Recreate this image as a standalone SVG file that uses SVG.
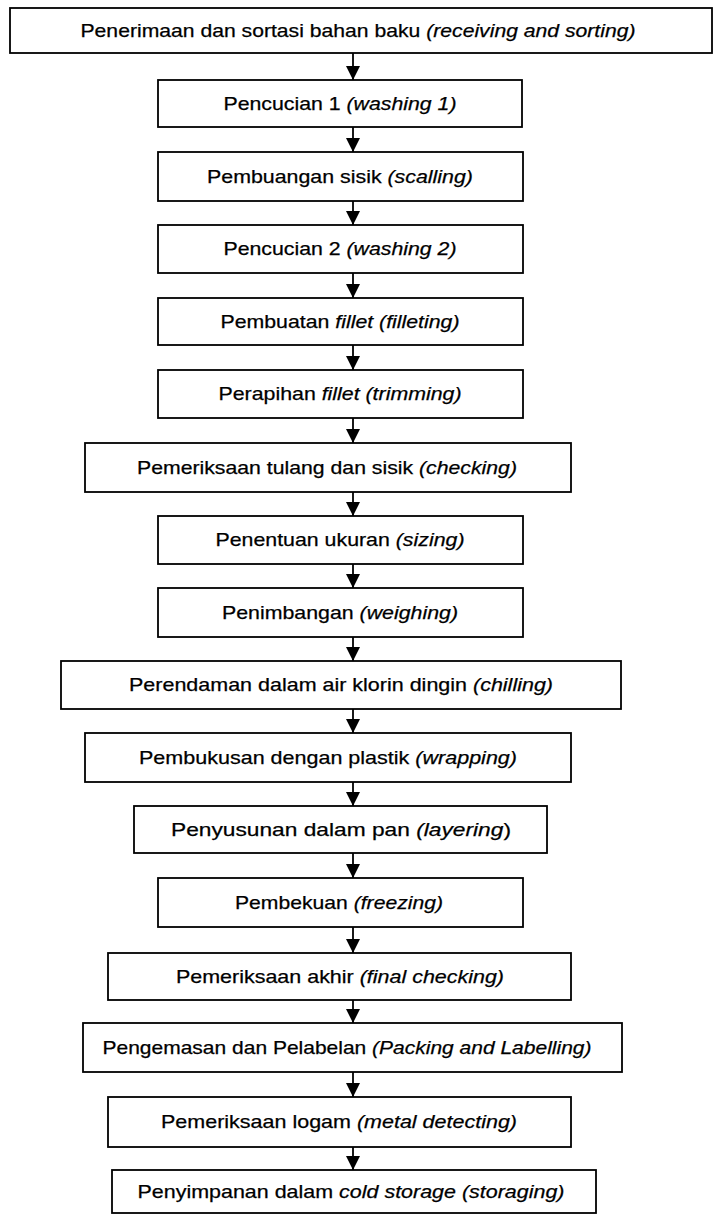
<svg xmlns="http://www.w3.org/2000/svg" width="715" height="1217" viewBox="0 0 715 1217">
<style>
.box{fill:#fff;stroke:#000;stroke-width:1.8}
.t{font-family:"Liberation Sans",Arial,sans-serif;font-size:19px;fill:#000;stroke:#000;stroke-width:0.25;text-anchor:middle}
.i{font-style:italic}
.c{stroke:#000;stroke-width:1.8;fill:none}
</style>
<defs>
<marker id="ah" markerUnits="userSpaceOnUse" markerWidth="16" markerHeight="16" viewBox="0 0 16 16" refX="14" refY="7" orient="auto">
<path d="M0,0 L14,7 L0,14 Z" fill="#000"/>
</marker>
</defs>
<rect width="715" height="1217" fill="#fff"/>
<g id="connectors">
<line class="c" x1="353" y1="53" x2="353" y2="80" marker-end="url(#ah)"/>
<line class="c" x1="353" y1="127" x2="353" y2="152" marker-end="url(#ah)"/>
<line class="c" x1="353" y1="201" x2="353" y2="225" marker-end="url(#ah)"/>
<line class="c" x1="353" y1="273" x2="353" y2="298" marker-end="url(#ah)"/>
<line class="c" x1="353" y1="345" x2="353" y2="370" marker-end="url(#ah)"/>
<line class="c" x1="353" y1="418" x2="353" y2="443" marker-end="url(#ah)"/>
<line class="c" x1="353" y1="492" x2="353" y2="516" marker-end="url(#ah)"/>
<line class="c" x1="353" y1="564" x2="353" y2="588" marker-end="url(#ah)"/>
<line class="c" x1="353" y1="637" x2="353" y2="661" marker-end="url(#ah)"/>
<line class="c" x1="353" y1="709" x2="353" y2="733" marker-end="url(#ah)"/>
<line class="c" x1="353" y1="782" x2="353" y2="806" marker-end="url(#ah)"/>
<line class="c" x1="353" y1="853" x2="353" y2="878" marker-end="url(#ah)"/>
<line class="c" x1="353" y1="927" x2="353" y2="953" marker-end="url(#ah)"/>
<line class="c" x1="353" y1="1000" x2="353" y2="1023" marker-end="url(#ah)"/>
<line class="c" x1="353" y1="1072" x2="353" y2="1097" marker-end="url(#ah)"/>
<line class="c" x1="353" y1="1147" x2="353" y2="1170" marker-end="url(#ah)"/>
</g>
<g id="n1"><rect class="box" x="10" y="8" width="702" height="45"/><text class="t" x="358" y="37" textLength="555" lengthAdjust="spacingAndGlyphs">Penerimaan dan sortasi bahan baku <tspan class="i">(receiving and sorting)</tspan></text></g>
<g id="n2"><rect class="box" x="158" y="80" width="364" height="47"/><text class="t" x="340" y="110" textLength="233" lengthAdjust="spacingAndGlyphs">Pencucian 1 <tspan class="i">(washing 1)</tspan></text></g>
<g id="n3"><rect class="box" x="158" y="152" width="365" height="49"/><text class="t" x="340" y="183" textLength="266" lengthAdjust="spacingAndGlyphs">Pembuangan sisik <tspan class="i">(scalling)</tspan></text></g>
<g id="n4"><rect class="box" x="158" y="225" width="365" height="48"/><text class="t" x="340" y="255" textLength="233" lengthAdjust="spacingAndGlyphs">Pencucian 2 <tspan class="i">(washing 2)</tspan></text></g>
<g id="n5"><rect class="box" x="158" y="298" width="365" height="47"/><text class="t" x="340" y="328" textLength="239" lengthAdjust="spacingAndGlyphs">Pembuatan <tspan class="i">fillet (filleting)</tspan></text></g>
<g id="n6"><rect class="box" x="158" y="370" width="365" height="48"/><text class="t" x="340" y="400" textLength="243" lengthAdjust="spacingAndGlyphs">Perapihan <tspan class="i">fillet (trimming)</tspan></text></g>
<g id="n7"><rect class="box" x="85" y="443" width="486" height="49"/><text class="t" x="327" y="474" textLength="380" lengthAdjust="spacingAndGlyphs">Pemeriksaan tulang dan sisik <tspan class="i">(checking)</tspan></text></g>
<g id="n8"><rect class="box" x="158" y="516" width="365" height="48"/><text class="t" x="340" y="546" textLength="249" lengthAdjust="spacingAndGlyphs">Penentuan ukuran <tspan class="i">(sizing)</tspan></text></g>
<g id="n9"><rect class="box" x="158" y="588" width="365" height="49"/><text class="t" x="340" y="619" textLength="236" lengthAdjust="spacingAndGlyphs">Penimbangan <tspan class="i">(weighing)</tspan></text></g>
<g id="n10"><rect class="box" x="61" y="661" width="560" height="48"/><text class="t" x="341" y="691" textLength="424" lengthAdjust="spacingAndGlyphs">Perendaman dalam air klorin dingin <tspan class="i">(chilling)</tspan></text></g>
<g id="n11"><rect class="box" x="85" y="733" width="486" height="49"/><text class="t" x="328" y="764" textLength="378" lengthAdjust="spacingAndGlyphs">Pembukusan dengan plastik <tspan class="i">(wrapping)</tspan></text></g>
<g id="n12"><rect class="box" x="134" y="806" width="413" height="47"/><text class="t" x="341" y="836" textLength="340" lengthAdjust="spacingAndGlyphs">Penyusunan dalam pan <tspan class="i">(layering</tspan>)</text></g>
<g id="n13"><rect class="box" x="158" y="878" width="365" height="49"/><text class="t" x="339" y="909" textLength="208" lengthAdjust="spacingAndGlyphs">Pembekuan <tspan class="i">(freezing)</tspan></text></g>
<g id="n14"><rect class="box" x="108" y="953" width="463" height="47"/><text class="t" x="340" y="983" textLength="328" lengthAdjust="spacingAndGlyphs">Pemeriksaan akhir <tspan class="i">(final checking)</tspan></text></g>
<g id="n15"><rect class="box" x="83" y="1023" width="539" height="49"/><text class="t" x="347" y="1054" textLength="489" lengthAdjust="spacingAndGlyphs">Pengemasan dan Pelabelan <tspan class="i">(Packing and Labelling)</tspan></text></g>
<g id="n16"><rect class="box" x="108" y="1097" width="463" height="50"/><text class="t" x="339" y="1128" textLength="356" lengthAdjust="spacingAndGlyphs">Pemeriksaan logam <tspan class="i">(metal detecting)</tspan></text></g>
<g id="n17"><rect class="box" x="112" y="1170" width="484" height="43"/><text class="t" x="351" y="1198" textLength="427" lengthAdjust="spacingAndGlyphs">Penyimpanan dalam <tspan class="i">cold storage (storaging)</tspan></text></g>
</svg>
